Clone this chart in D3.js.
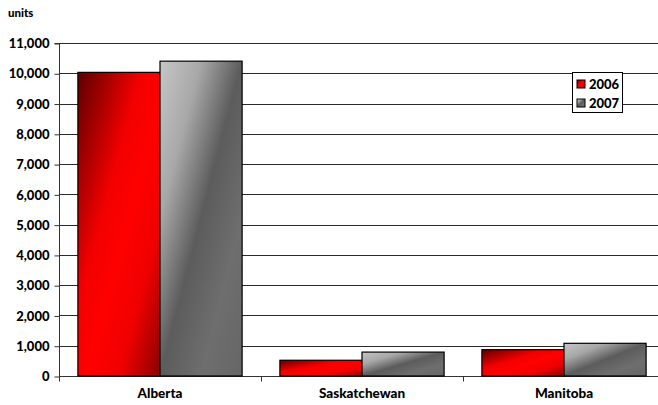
<!DOCTYPE html>
<html>
<head>
<meta charset="utf-8">
<script src="https://cdn.jsdelivr.net/npm/d3@7"></script>
<style>
  body { margin: 0; background: #fff; }
  text { font-family: Lato, "Open Sans", sans-serif; font-weight: 900; fill: #000; }
</style>
</head>
<body>
<script>
let width = 658;
let height = 405;

let provinces = ["Alberta", "Saskatchewan", "Manitoba"];
let years = ["2006", "2007"];
let values2006 = [10030, 520, 870];
let values2007 = [10400, 790, 1080];
let yTicks = [0, 1000, 2000, 3000, 4000, 5000, 6000, 7000, 8000, 9000, 10000, 11000];

let margin = { left: 59, top: 43, bottom: 29 };
let plotRight = 665; // last category band runs past the window edge

let svg = d3
  .select("body")
  .append("svg")
  .attr("width", width)
  .attr("height", height);

let defs = svg.append("defs");

function addGradient(id, stops) {
  let g = defs
    .append("linearGradient")
    .attr("id", id)
    .attr("x1", 0)
    .attr("y1", 0)
    .attr("x2", 1)
    .attr("y2", 1);
  stops.forEach(function(s) {
    g.append("stop").attr("offset", s[0]).attr("stop-color", s[1]);
  });
}

addGradient("red", [[0, "#5c0000"], [0.38, "#f20000"], [0.55, "#ff0000"], [0.75, "#f00000"], [1, "#8a0000"]]);
addGradient("grey", [[0, "#c6c6c6"], [0.25, "#a8a8a8"], [0.5, "#5c5c5c"], [0.75, "#6e6e6e"], [1, "#666666"]]);

let x = d3
  .scaleBand()
  .domain(provinces)
  .range([margin.left, plotRight]);

let xInner = d3
  .scaleBand()
  .domain(years)
  .range([0, x.bandwidth()])
  .paddingOuter(0.23);

let y = d3
  .scaleLinear()
  .domain([0, 11000])
  .range([height - margin.bottom, margin.top]);

// gridlines
svg
  .append("g")
  .selectAll("line")
  .data(yTicks.slice(1))
  .enter()
  .append("line")
  .attr("x1", margin.left)
  .attr("x2", width)
  .attr("y1", function(d) { return Math.round(y(d)) + 0.5; })
  .attr("y2", function(d) { return Math.round(y(d)) + 0.5; })
  .attr("stroke", "#2a2a2a")
  .attr("stroke-width", 1);

// y axis
let yAxis = svg
  .append("g")
  .attr("transform", "translate(" + (margin.left + 0.5) + ",0.5)")
  .call(
    d3.axisLeft(y)
      .tickValues(yTicks)
      .tickSize(5)
      .tickPadding(5)
      .tickFormat(d3.format(","))
  );
yAxis.select(".domain").attr("stroke", "#333").attr("d", "M-5," + Math.round(y(11000)) + "H0V" + Math.round(y(0)));
yAxis.selectAll(".tick line").attr("stroke", "#333");
yAxis.selectAll("text").style("font-size", "13px").attr("fill", "#000");

// x axis
let xAxisG = svg.append("g").attr("transform", "translate(0," + (Math.round(y(0)) + 0.5) + ")");
xAxisG
  .append("line")
  .attr("x1", margin.left)
  .attr("x2", width)
  .attr("stroke", "#333");
xAxisG
  .selectAll(".sep")
  .data([0, 1, 2])
  .enter()
  .append("line")
  .attr("x1", function(i) { return Math.round(x(provinces[i])) + 0.5; })
  .attr("x2", function(i) { return Math.round(x(provinces[i])) + 0.5; })
  .attr("y1", 0)
  .attr("y2", 5)
  .attr("stroke", "#333");
xAxisG
  .selectAll(".label")
  .data(provinces)
  .enter()
  .append("text")
  .attr("x", function(d) { return x(d) + x.bandwidth() / 2; })
  .attr("y", 21)
  .attr("text-anchor", "middle")
  .style("font-size", "13.5px")
  .text(function(d) { return d; });

// bars
let series = [
  { year: "2006", values: values2006, fill: "url(#red)" },
  { year: "2007", values: values2007, fill: "url(#grey)" }
];

series.forEach(function(s) {
  svg
    .append("g")
    .selectAll("rect")
    .data(s.values)
    .enter()
    .append("rect")
    .attr("x", function(d, i) { return x(provinces[i]) + xInner(s.year); })
    .attr("y", function(d) { return y(d); })
    .attr("width", xInner.bandwidth())
    .attr("height", function(d) { return y(0) - y(d); })
    .attr("fill", s.fill)
    .attr("stroke", "#000")
    .attr("stroke-width", 1.2);
});

// legend
let legend = svg.append("g").attr("transform", "translate(572.5,72.5)");
legend
  .append("rect")
  .attr("width", 50)
  .attr("height", 40)
  .attr("fill", "#fff")
  .attr("stroke", "#000");
let legendItems = legend
  .selectAll(".item")
  .data(years)
  .enter()
  .append("g")
  .attr("transform", function(d, i) { return "translate(4.5," + (7.5 + i * 19) + ")"; });
legendItems
  .append("rect")
  .attr("width", 8)
  .attr("height", 8)
  .attr("fill", function(d, i) { return series[i].fill; })
  .attr("stroke", "#000");
legendItems
  .append("text")
  .attr("x", 12)
  .attr("y", 9)
  .style("font-size", "13px")
  .text(function(d) { return d; });

// unit label
svg
  .append("text")
  .attr("x", 8)
  .attr("y", 17)
  .style("font-size", "11.5px")
  .text("units");
</script>
</body>
</html>
